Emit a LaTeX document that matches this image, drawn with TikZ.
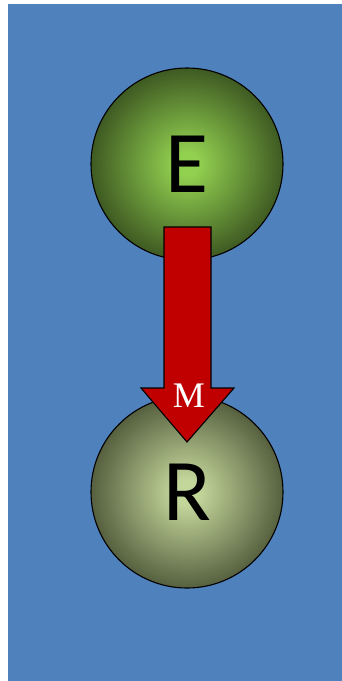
\documentclass[tikz,border=0pt]{standalone}
\usepackage{fontspec}
\setmainfont{Carlito}
\newfontfamily\serifm{Liberation Serif}
\usetikzlibrary{positioning}
\definecolor{bgblue}{HTML}{4F81BD}
\definecolor{darkred}{HTML}{C00000}
\definecolor{eIn}{HTML}{92D050}
\definecolor{eOut}{HTML}{3E5A22}
\definecolor{rIn}{HTML}{C4D79B}
\definecolor{rOut}{HTML}{56603F}
\pgfdeclareradialshading{shadeE}{\pgfpoint{0bp}{0bp}}{color(0bp)=(eIn); color(3bp)=(eIn); color(25bp)=(eOut); color(50bp)=(eOut)}
\pgfdeclareradialshading{shadeR}{\pgfpoint{0bp}{0bp}}{color(0bp)=(rIn); color(3bp)=(rIn); color(25bp)=(rOut); color(50bp)=(rOut)}
\tikzset{
  ball/.style={circle,draw=black,line width=1.1pt,minimum size=192pt,inner sep=0pt,
    font=\fontsize{88}{88}\selectfont},
}
\begin{document}
\begin{tikzpicture}[x=1pt,y=-1pt]
        \useasboundingbox (0,0) rectangle (342,681);
        % Hintergrund
        \fill[bgblue] (8,4) rectangle (342,681);
        % Kreise
        \node[ball,shading=shadeE] (circE) at (187,164) {E};
        \node[ball,shading=shadeR] (circR) at (187,492) {R};
        % Pfeil von E nach R
        \filldraw[fill=darkred,draw=black,line width=1.1pt]
          (164,227) -- (211,227) -- (211,388) -- (234,388) -- (187,442)
          -- (141,388) -- (164,388) -- cycle;
        \node[white,font=\serifm\fontsize{36}{36}\selectfont] (labM) at (189,396) {M};
\end{tikzpicture}
\end{document}
